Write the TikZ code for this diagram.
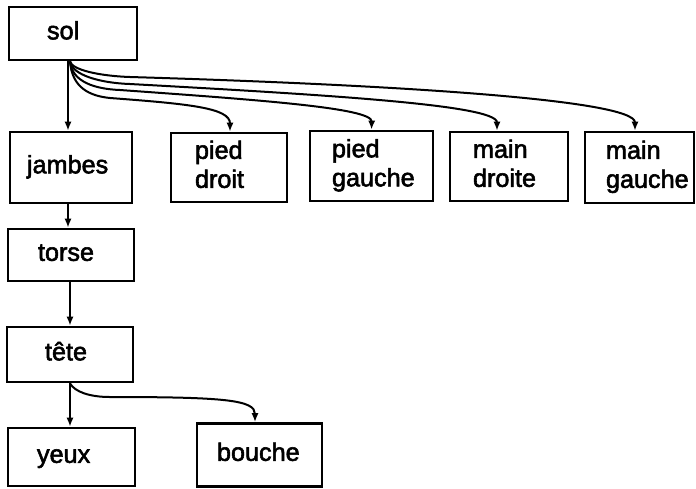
\documentclass[tikz,border=0pt]{standalone}
\usepackage{fontspec}
\setmainfont{Liberation Sans}[FakeBold=2.2]
\usetikzlibrary{arrows.meta}
\begin{document}
\begin{tikzpicture}[x=0.5pt,y=-0.5pt,
  box/.style={draw,line width=1.4pt,inner ysep=0pt,align=left,font=\fontsize{12.6}{14.5}\selectfont},
  link/.style={line width=1pt,-{Latex[length=4.5pt,width=3.6pt]}}]
\useasboundingbox (0,0) rectangle (696,488);
\node[box,minimum width=64pt,minimum height=26.5pt,inner xsep=19pt,text width=26pt] (sol) at (73,33.5) {\strut sol};
\node[box,minimum width=61pt,minimum height=35.5pt,inner xsep=8.5pt,text width=44pt] (jam) at (71,167.5) {\strut jambes};
\node[box,minimum width=58pt,minimum height=34.5pt,inner xsep=12pt,text width=34pt] (pd) at (229,167.5) {\strut pied\\droit\strut};
\node[box,minimum width=61.5pt,minimum height=35pt,inner xsep=11pt,text width=39.5pt] (pg) at (371.5,166) {\strut pied\\gauche\strut};
\node[box,minimum width=59pt,minimum height=34.5pt,inner xsep=11.5pt,text width=36pt] (md) at (509,166.5) {\strut main\\droite\strut};
\node[box,minimum width=54.5pt,minimum height=35.5pt,inner xsep=10.5pt,text width=33.5pt] (mg) at (639.5,167.5) {\strut main\\gauche\strut};
\node[box,minimum width=63pt,minimum height=26pt,inner xsep=15pt,text width=33pt] (tor) at (71,255) {\strut torse};
\node[box,minimum width=63pt,minimum height=27.5pt,inner xsep=19pt,text width=25pt] (tet) at (70,354.5) {\strut tête};
\node[box,minimum width=63.5pt,minimum height=29pt,inner xsep=14.5pt,text width=34.5pt] (yeu) at (71.5,457) {\strut yeux};
\node[box,minimum width=62.5pt,minimum height=31.5pt,inner xsep=10pt,text width=42.5pt] (bou) at (259.5,455) {\strut bouche};
% vertical chain
\draw[link] ([xshift=-2.5pt]sol.south) -- ([xshift=-1.5pt]jam.north);
\draw[link] ([xshift=-1.5pt]jam.south) -- ([xshift=-1.5pt]tor.north);
\draw[link] ([xshift=-0.5pt]tor.south) -- (tet.north);
\draw[link] (tet.south) -- ([xshift=-0.75pt]yeu.north);
% curves from sol
\coordinate (c1) at (110,98);
\coordinate (c2) at (120,90);
\coordinate (c3) at (130,84);
\coordinate (c4) at (130,77);
\draw[link] ([xshift=-1.5pt]sol.south) .. controls (72,88) and (90,96) .. (c1)
  .. controls (190,104) and (230,108) .. ([xshift=0.5pt]pd.north);
\draw[link] ([xshift=-1.5pt]sol.south) .. controls (72,82) and (95,89) .. (c2)
  .. controls (260,100) and (372,108) .. (pg.north);
\draw[link] ([xshift=-1.5pt]sol.south) .. controls (72,75) and (100,83) .. (c3)
  .. controls (330,95) and (497,105) .. ([xshift=-6pt]md.north);
\draw[link] ([xshift=-1.5pt]sol.south) .. controls (72,70) and (100,76) .. (c4)
  .. controls (400,85) and (635,100) .. ([xshift=-2.25pt]mg.north);
% curve from tete
\coordinate (c5) at (110,397);
\draw[link] (tet.south) .. controls (75,392) and (90,397) .. (c5)
  .. controls (225,397) and (255,400) .. ([xshift=-2.25pt]bou.north);
\end{tikzpicture}
\end{document}
